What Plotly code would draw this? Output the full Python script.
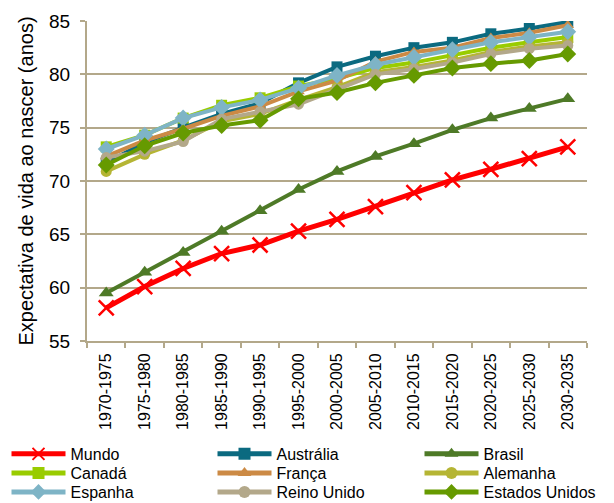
import plotly.graph_objects as go

periods = ["1970-1975", "1975-1980", "1980-1985", "1985-1990", "1990-1995", "1995-2000",
           "2000-2005", "2005-2010", "2010-2015", "2015-2020", "2020-2025", "2025-2030", "2030-2035"]

mundo = [58.1, 60.1, 61.8, 63.2, 64.0, 65.3, 66.4, 67.6, 68.9, 70.1, 71.1, 72.1, 73.2]
australia = [71.7, 73.6, 75.0, 76.3, 77.3, 79.2, 80.7, 81.7, 82.5, 83.0, 83.8, 84.3, 84.9]
brasil = [59.5, 61.45, 63.3, 65.3, 67.2, 69.2, 70.9, 72.3, 73.5, 74.8, 75.9, 76.8, 77.7]
canada = [73.2, 74.3, 75.9, 77.1, 77.8, 78.9, 79.6, 80.6, 81.1, 81.8, 82.5, 83.0, 83.5]
franca = [72.3, 73.8, 74.9, 76.1, 77.0, 78.4, 79.4, 81.2, 82.1, 82.5, 83.4, 83.9, 84.6]
alemanha = [70.9, 72.5, 73.8, 75.6, 76.3, 77.6, 78.8, 80.2, 80.7, 81.3, 82.1, 82.6, 83.0]
espanha = [73.0, 74.3, 75.9, 76.9, 77.6, 78.7, 79.9, 80.9, 81.6, 82.3, 83.0, 83.5, 84.0]
reino_unido = [72.2, 72.8, 73.7, 75.8, 76.5, 77.2, 78.6, 80.0, 80.5, 81.1, 81.9, 82.4, 82.7]
estados_unidos = [71.5, 73.3, 74.5, 75.2, 75.7, 77.7, 78.3, 79.2, 79.9, 80.6, 81.0, 81.3, 81.9]

series = [
    ("Mundo", mundo, "#FF0000", "x-thin", 15, 5),
    ("Austrália", australia, "#0B6A80", "square", 11, 4),
    ("Brasil", brasil, "#4E7A27", "triangle-up", 13, 4),
    ("Canadá", canada, "#99CC00", "square", 11, 4),
    ("França", franca, "#CC8A45", "triangle-up", 11, 4),
    ("Alemanha", alemanha, "#B5B534", "circle", 11, 4),
    ("Espanha", espanha, "#7EB4C6", "diamond", 13, 4),
    ("Reino Unido", reino_unido, "#B3A88A", "circle", 11, 4),
    ("Estados Unidos", estados_unidos, "#669A00", "diamond", 13, 4),
]

# legend grid: 3 columns x 3 rows (paper coordinates)
col_x = [-0.161, 0.251, 0.665]
row_y = [-0.353, -0.4125, -0.4719]

fig = go.Figure()
legend_layout = {}
for i, (name, vals, color, sym, size, lw) in enumerate(series):
    if sym == "x-thin":
        marker = dict(symbol=sym, size=size, color=color, line=dict(width=2.5, color=color))
    else:
        marker = dict(symbol=sym, size=size, color=color, line=dict(width=0))
    lname = "legend" if i == 0 else f"legend{i + 1}"
    fig.add_trace(go.Scatter(x=periods, y=vals, name=name, mode="lines+markers",
                             line=dict(color=color, width=lw), marker=marker,
                             legend=lname))
    legend_layout[lname] = dict(
        x=col_x[i % 3], xanchor="left", y=row_y[i // 3], yanchor="middle",
        itemwidth=54, font=dict(size=16), bgcolor="rgba(0,0,0,0)",
        itemsizing="constant",
    )

grid = "#B3A88A"
fig.update_layout(
    width=614, height=503,
    margin=dict(l=87, r=27, t=21, b=162, autoexpand=False),
    paper_bgcolor="white", plot_bgcolor="white",
    font=dict(family="Liberation Sans, Arial, sans-serif", color="black"),
    xaxis=dict(
        type="category", tickangle=-90, tickfont=dict(size=16),
        showgrid=False, showline=True, linecolor=grid, linewidth=2,
        ticks="outside", ticklen=5, tickcolor=grid, tickwidth=2,
        tickson="boundaries", range=[-0.5, 12.5], ticklabelstandoff=4,
    ),
    yaxis=dict(
        range=[55, 85], dtick=5, tickfont=dict(size=19),
        showgrid=True, gridcolor=grid, gridwidth=2,
        showline=True, linecolor=grid, linewidth=2,
        ticks="outside", ticklen=5, tickcolor=grid, tickwidth=2,
        zeroline=False, ticklabelstandoff=6,
        title=dict(text="Expectativa de vida ao nascer (anos)", font=dict(size=20), standoff=10),
    ),
    showlegend=True,
    **legend_layout,
)

fig.write_html("out.html")
